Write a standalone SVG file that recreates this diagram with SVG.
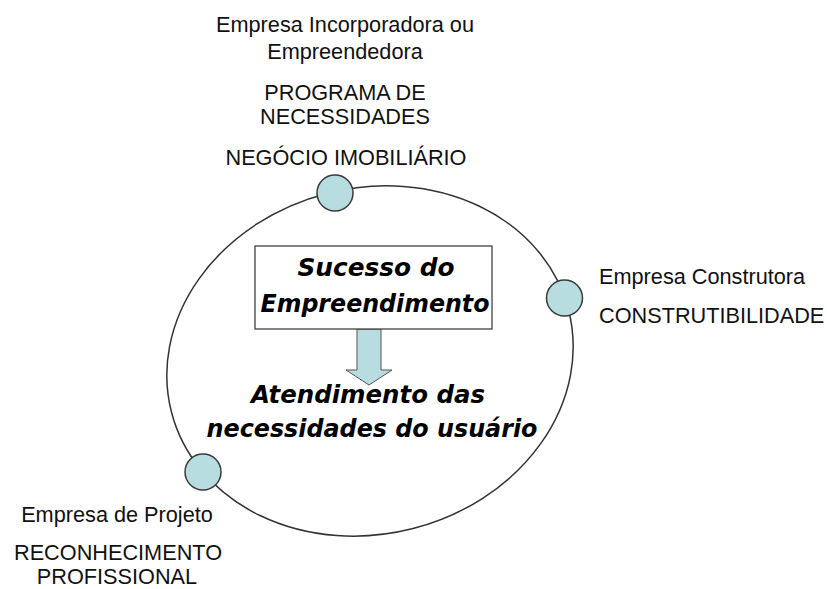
<svg xmlns="http://www.w3.org/2000/svg" width="827" height="589" viewBox="0 0 827 589">
<style>
.lbl{font-family:"Liberation Sans",Arial,sans-serif;font-size:21.7px;fill:#111}
.big{font-family:"DejaVu Sans","Liberation Sans",sans-serif;font-size:25px;font-weight:bold;font-style:italic;fill:#000}
.dot{fill:#b8dde0;stroke:#3a3a3a;stroke-width:1.5}
</style>
<rect width="827" height="589" fill="#fff"/>
<g id="connectors">
<ellipse cx="370" cy="361" rx="205" ry="173" transform="rotate(-14.4 370 361)" fill="none" stroke="#333" stroke-width="1.5"/>
<path d="M357,329 H381 V370 H392 L369,385 L346,370 H357 Z" fill="#b8dde0" stroke="#555" stroke-width="1"/>
</g>
<g id="center-box">
<rect x="255" y="246" width="237" height="83" fill="#fff" stroke="#333" stroke-width="1.2"/>
<text class="big" text-anchor="middle"><tspan x="376" y="276" textLength="157" lengthAdjust="spacingAndGlyphs">Sucesso do</tspan><tspan x="375" y="312" textLength="229" lengthAdjust="spacingAndGlyphs">Empreendimento</tspan></text>
</g>
<g id="goal">
<text class="big" text-anchor="middle"><tspan x="368" y="403" textLength="234" lengthAdjust="spacingAndGlyphs">Atendimento das</tspan><tspan x="372" y="437" textLength="331" lengthAdjust="spacingAndGlyphs">necessidades do usuário</tspan></text>
</g>
<g id="node-incorporadora">
<circle class="dot" cx="335" cy="193" r="18"/>
<text class="lbl" text-anchor="middle"><tspan x="345" y="32">Empresa Incorporadora ou</tspan><tspan x="345" y="59">Empreendedora</tspan></text>
<text class="lbl" text-anchor="middle"><tspan x="345" y="100">PROGRAMA DE</tspan><tspan x="345" y="124">NECESSIDADES</tspan></text>
<text class="lbl" x="346" y="165" text-anchor="middle">NEGÓCIO IMOBILIÁRIO</text>
</g>
<g id="node-construtora">
<circle class="dot" cx="564.5" cy="298" r="18"/>
<text class="lbl" x="599" y="284">Empresa Construtora</text>
<text class="lbl" x="599" y="323">CONSTRUTIBILIDADE</text>
</g>
<g id="node-projeto">
<circle class="dot" cx="203" cy="472" r="18"/>
<text class="lbl" x="117" y="522" text-anchor="middle">Empresa de Projeto</text>
<text class="lbl" text-anchor="middle"><tspan x="118" y="560">RECONHECIMENTO</tspan><tspan x="117" y="584">PROFISSIONAL</tspan></text>
</g>
</svg>
